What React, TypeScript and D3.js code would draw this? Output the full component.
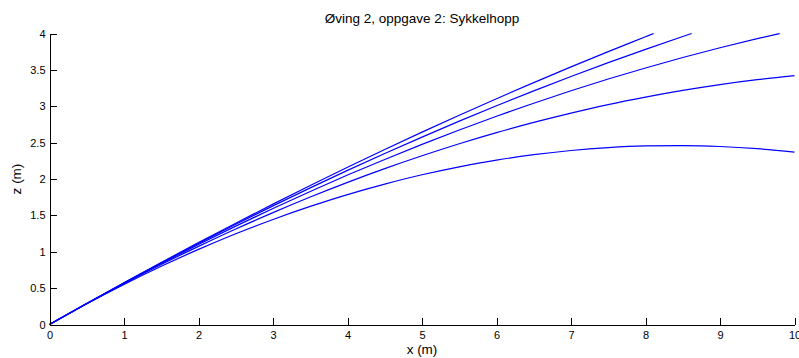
import { useEffect, useRef } from "react";
import * as d3 from "d3";

// Trajectories (x in m, z in m)
const xs1 = [0, 0.5, 1, 1.5, 2, 2.5, 3, 3.5, 4, 4.5, 5, 5.5, 6, 6.5, 7, 7.5, 8, 8.11];
const zs1 = [0, 0.29, 0.575, 0.853, 1.126, 1.393, 1.655, 1.911, 2.161, 2.405, 2.644, 2.877, 3.104, 3.325, 3.541, 3.751, 3.955, 4.0];

const xs2 = [0, 0.5, 1, 1.5, 2, 2.5, 3, 3.5, 4, 4.5, 5, 5.5, 6, 6.5, 7, 7.5, 8, 8.5, 8.62];
const zs2 = [0, 0.289, 0.572, 0.847, 1.115, 1.377, 1.631, 1.878, 2.118, 2.35, 2.576, 2.795, 3.007, 3.211, 3.409, 3.599, 3.782, 3.959, 4.0];

const xs3 = [0, 0.5, 1, 1.5, 2, 2.5, 3, 3.5, 4, 4.5, 5, 5.5, 6, 6.5, 7, 7.5, 8, 8.5, 9, 9.5, 9.8];
const zs3 = [0, 0.288, 0.568, 0.838, 1.099, 1.352, 1.595, 1.829, 2.054, 2.269, 2.476, 2.674, 2.863, 3.042, 3.213, 3.374, 3.526, 3.67, 3.804, 3.929, 4.0];

const xs4 = [0, 0.5, 1, 1.5, 2, 2.5, 3, 3.5, 4, 4.5, 5, 5.5, 6, 6.5, 7, 7.5, 8, 8.5, 9, 9.5, 10];
const zs4 = [0, 0.287, 0.562, 0.824, 1.074, 1.313, 1.538, 1.752, 1.954, 2.143, 2.32, 2.485, 2.638, 2.778, 2.906, 3.023, 3.126, 3.218, 3.298, 3.365, 3.42];

const xs5 = [0, 0.5, 1, 1.5, 2, 2.5, 3, 3.5, 4, 4.5, 5, 5.5, 6, 6.5, 7, 7.5, 8, 8.5, 9, 9.5, 10];
const zs5 = [0, 0.284, 0.551, 0.8, 1.032, 1.247, 1.444, 1.623, 1.786, 1.93, 2.058, 2.167, 2.26, 2.334, 2.392, 2.432, 2.454, 2.459, 2.447, 2.417, 2.37];

const xTicks = [0, 1, 2, 3, 4, 5, 6, 7, 8, 9, 10];
const zTicks = [0, 0.5, 1, 1.5, 2, 2.5, 3, 3.5, 4];

const title = "Øving 2, oppgave 2: Sykkelhopp";
const xLabel = "x (m)";
const zLabel = "z (m)";

const width = 799;
const height = 358;
const font = "'Liberation Sans', Arial, Helvetica, sans-serif";

export default function App() {
  const ref = useRef<SVGSVGElement>(null);

  useEffect(() => {
    const svg = d3.select(ref.current);
    svg.selectAll("*").remove();

    const x = d3.scaleLinear([0, 10], [49.5, 794.5]);
    const y = d3.scaleLinear([0, 4], [324.5, 33.5]);

    const series = [
      [xs1, zs1],
      [xs2, zs2],
      [xs3, zs3],
      [xs4, zs4],
      [xs5, zs5],
    ].map(([a, b]) => a.map((v, i) => [v, b[i]] as [number, number]));

    const line = d3
      .line<[number, number]>()
      .x((d) => x(d[0]))
      .y((d) => y(d[1]))
      .curve(d3.curveMonotoneX);

    svg
      .append("g")
      .attr("fill", "none")
      .attr("stroke", "#0000ff")
      .attr("stroke-width", 1.2)
      .selectAll("path")
      .data(series)
      .join("path")
      .attr("d", (d) => line(d));

    // axes, MATLAB style with inward ticks
    const gx = svg
      .append("g")
      .attr("transform", `translate(0,${y(0)})`)
      .call(d3.axisBottom(x).tickValues(xTicks).tickSizeInner(-7).tickSizeOuter(0).tickPadding(7).tickFormat(d3.format("")));
    const gy = svg
      .append("g")
      .attr("transform", `translate(${x(0)},0)`)
      .call(d3.axisLeft(y).tickValues(zTicks).tickSizeInner(-7).tickSizeOuter(0).tickPadding(4).tickFormat(d3.format("")));

    [gx, gy].forEach((g) => {
      g.attr("font-family", font).attr("font-size", 11);
      g.selectAll("line, path").attr("stroke", "#000").attr("shape-rendering", "crispEdges");
      g.selectAll("text").attr("fill", "#000");
    });

    svg
      .append("text")
      .attr("x", (x(0) + x(10)) / 2)
      .attr("y", 23)
      .attr("text-anchor", "middle")
      .attr("font-family", font)
      .attr("font-size", 13.5)
      .text(title);

    svg
      .append("text")
      .attr("x", (x(0) + x(10)) / 2)
      .attr("y", 354)
      .attr("text-anchor", "middle")
      .attr("font-family", font)
      .attr("font-size", 13.5)
      .text(xLabel);

    svg
      .append("text")
      .attr("transform", `translate(21,${(y(0) + y(4)) / 2}) rotate(-90)`)
      .attr("text-anchor", "middle")
      .attr("font-family", font)
      .attr("font-size", 13.5)
      .text(zLabel);
  }, []);

  return (
    <div style={{ position: "absolute", left: 0, top: 0 }}>
      <svg ref={ref} width={width} height={height} style={{ display: "block", background: "#fff" }} />
    </div>
  );
}
